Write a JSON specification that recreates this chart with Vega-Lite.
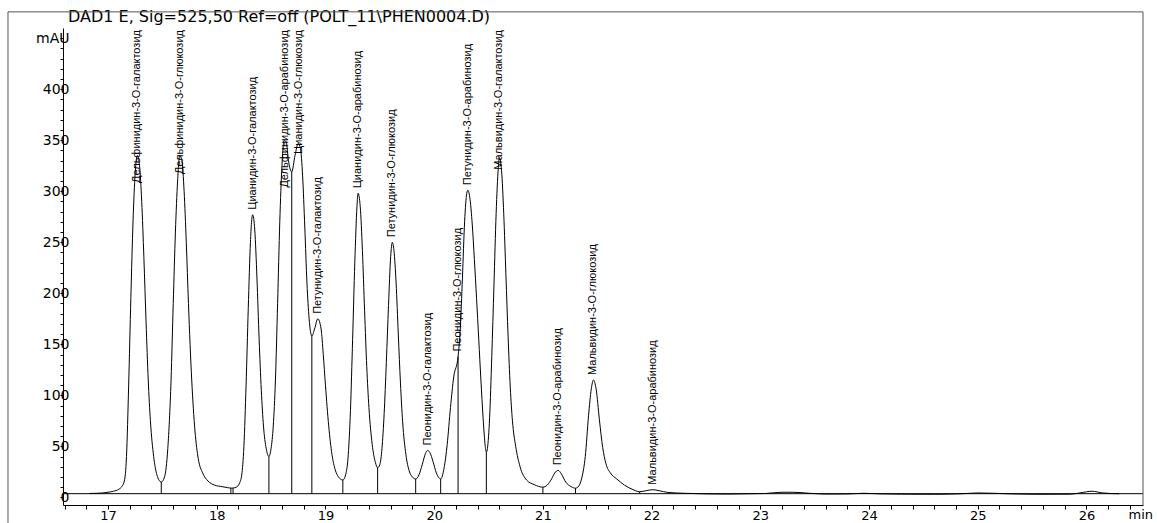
{
  "$schema": "https://vega.github.io/schema/vega-lite/v6.json",
  "width": 1080,
  "height": 477,
  "autosize": {"type": "none"},
  "padding": {"left": 63, "top": 28, "right": 14, "bottom": 18},
  "background": "white",
  "config": {"view": {"stroke": null}, "font": "Liberation Sans", "axis": {"labelOverlap": false, "labelFlush": false, "labelBound": false}},
  "datasets": {
    "trace": [
      {"t": 16.83, "v": 3.8}, {"t": 16.9, "v": 4.0}, {"t": 16.95, "v": 4.3}, {"t": 17.0, "v": 5}, {"t": 17.05, "v": 6}, {"t": 17.1, "v": 8}, {"t": 17.13, "v": 11}, {"t": 17.15, "v": 16}, {"t": 17.17, "v": 40}, {"t": 17.19, "v": 110}, {"t": 17.21, "v": 195}, {"t": 17.23, "v": 270}, {"t": 17.25, "v": 318}, {"t": 17.27, "v": 335}, {"t": 17.29, "v": 325}, {"t": 17.31, "v": 290}, {"t": 17.33, "v": 235}, {"t": 17.35, "v": 172}, {"t": 17.37, "v": 115}, {"t": 17.39, "v": 75}, {"t": 17.42, "v": 40}, {"t": 17.45, "v": 22}, {"t": 17.49, "v": 15},
      {"t": 17.52, "v": 20}, {"t": 17.55, "v": 48}, {"t": 17.58, "v": 115}, {"t": 17.6, "v": 190}, {"t": 17.62, "v": 260}, {"t": 17.64, "v": 310}, {"t": 17.66, "v": 335}, {"t": 17.68, "v": 330}, {"t": 17.7, "v": 300}, {"t": 17.72, "v": 250}, {"t": 17.74, "v": 190}, {"t": 17.77, "v": 115}, {"t": 17.8, "v": 65}, {"t": 17.83, "v": 38}, {"t": 17.87, "v": 24}, {"t": 17.92, "v": 16}, {"t": 17.98, "v": 12}, {"t": 18.05, "v": 10.5}, {"t": 18.1, "v": 9.5}, {"t": 18.14, "v": 9},
      {"t": 18.18, "v": 10}, {"t": 18.21, "v": 14}, {"t": 18.23, "v": 22}, {"t": 18.25, "v": 50}, {"t": 18.27, "v": 110}, {"t": 18.29, "v": 185}, {"t": 18.31, "v": 250}, {"t": 18.33, "v": 277}, {"t": 18.35, "v": 262}, {"t": 18.37, "v": 215}, {"t": 18.39, "v": 155}, {"t": 18.41, "v": 105}, {"t": 18.43, "v": 70}, {"t": 18.455, "v": 48}, {"t": 18.48, "v": 40},
      {"t": 18.5, "v": 48}, {"t": 18.52, "v": 70}, {"t": 18.54, "v": 115}, {"t": 18.56, "v": 190}, {"t": 18.58, "v": 270}, {"t": 18.6, "v": 325}, {"t": 18.62, "v": 350}, {"t": 18.64, "v": 348}, {"t": 18.66, "v": 330}, {"t": 18.69, "v": 319}, {"t": 18.72, "v": 335}, {"t": 18.75, "v": 347}, {"t": 18.77, "v": 342}, {"t": 18.79, "v": 315}, {"t": 18.81, "v": 265}, {"t": 18.83, "v": 210}, {"t": 18.85, "v": 175}, {"t": 18.875, "v": 158}, {"t": 18.9, "v": 165}, {"t": 18.93, "v": 175}, {"t": 18.96, "v": 165}, {"t": 18.98, "v": 140}, {"t": 19.0, "v": 110}, {"t": 19.03, "v": 70}, {"t": 19.06, "v": 42}, {"t": 19.09, "v": 27}, {"t": 19.12, "v": 20}, {"t": 19.16, "v": 17},
      {"t": 19.19, "v": 24}, {"t": 19.21, "v": 42}, {"t": 19.23, "v": 85}, {"t": 19.25, "v": 155}, {"t": 19.27, "v": 230}, {"t": 19.29, "v": 285}, {"t": 19.3, "v": 298}, {"t": 19.32, "v": 285}, {"t": 19.34, "v": 242}, {"t": 19.36, "v": 183}, {"t": 19.38, "v": 128}, {"t": 19.4, "v": 88}, {"t": 19.43, "v": 52}, {"t": 19.46, "v": 34}, {"t": 19.48, "v": 29},
      {"t": 19.5, "v": 32}, {"t": 19.52, "v": 48}, {"t": 19.54, "v": 82}, {"t": 19.56, "v": 132}, {"t": 19.58, "v": 188}, {"t": 19.6, "v": 236}, {"t": 19.615, "v": 250}, {"t": 19.63, "v": 242}, {"t": 19.65, "v": 210}, {"t": 19.67, "v": 160}, {"t": 19.69, "v": 112}, {"t": 19.71, "v": 74}, {"t": 19.74, "v": 42}, {"t": 19.77, "v": 26}, {"t": 19.8, "v": 20}, {"t": 19.83, "v": 18},
      {"t": 19.86, "v": 22}, {"t": 19.89, "v": 32}, {"t": 19.92, "v": 43}, {"t": 19.94, "v": 46}, {"t": 19.96, "v": 44}, {"t": 19.99, "v": 35}, {"t": 20.02, "v": 24}, {"t": 20.06, "v": 18},
      {"t": 20.09, "v": 28}, {"t": 20.12, "v": 52}, {"t": 20.15, "v": 88}, {"t": 20.18, "v": 118}, {"t": 20.22, "v": 138}, {"t": 20.24, "v": 165}, {"t": 20.26, "v": 215}, {"t": 20.28, "v": 270}, {"t": 20.3, "v": 298}, {"t": 20.31, "v": 301}, {"t": 20.33, "v": 292}, {"t": 20.35, "v": 268}, {"t": 20.37, "v": 233}, {"t": 20.39, "v": 195}, {"t": 20.41, "v": 155}, {"t": 20.43, "v": 115}, {"t": 20.45, "v": 78}, {"t": 20.47, "v": 50}, {"t": 20.48, "v": 44},
      {"t": 20.49, "v": 48}, {"t": 20.51, "v": 78}, {"t": 20.53, "v": 138}, {"t": 20.55, "v": 208}, {"t": 20.57, "v": 278}, {"t": 20.59, "v": 323}, {"t": 20.6, "v": 333}, {"t": 20.62, "v": 320}, {"t": 20.64, "v": 278}, {"t": 20.66, "v": 218}, {"t": 20.68, "v": 158}, {"t": 20.7, "v": 108}, {"t": 20.72, "v": 75}, {"t": 20.75, "v": 50}, {"t": 20.79, "v": 30}, {"t": 20.85, "v": 17}, {"t": 20.92, "v": 12.5}, {"t": 21.0, "v": 10},
      {"t": 21.04, "v": 12}, {"t": 21.08, "v": 18}, {"t": 21.11, "v": 24}, {"t": 21.14, "v": 26.5}, {"t": 21.17, "v": 23}, {"t": 21.21, "v": 15}, {"t": 21.26, "v": 10.5}, {"t": 21.3, "v": 9},
      {"t": 21.33, "v": 11}, {"t": 21.36, "v": 20}, {"t": 21.39, "v": 40}, {"t": 21.42, "v": 80}, {"t": 21.445, "v": 106}, {"t": 21.465, "v": 115}, {"t": 21.49, "v": 106}, {"t": 21.52, "v": 76}, {"t": 21.55, "v": 49}, {"t": 21.58, "v": 33}, {"t": 21.62, "v": 24}, {"t": 21.68, "v": 18}, {"t": 21.75, "v": 12}, {"t": 21.82, "v": 8}, {"t": 21.89, "v": 5.5},
      {"t": 21.95, "v": 6.5}, {"t": 22.01, "v": 7.5}, {"t": 22.07, "v": 6.5}, {"t": 22.15, "v": 4.8}, {"t": 22.3, "v": 4}, {"t": 22.5, "v": 3.4}, {"t": 22.7, "v": 3.2}, {"t": 22.9, "v": 3.5}, {"t": 23.05, "v": 3.8}, {"t": 23.2, "v": 5}, {"t": 23.3, "v": 5}, {"t": 23.45, "v": 4}, {"t": 23.6, "v": 3.2}, {"t": 23.8, "v": 3.3}, {"t": 23.95, "v": 4}, {"t": 24.1, "v": 3.4}, {"t": 24.3, "v": 3.1}, {"t": 24.6, "v": 3}, {"t": 24.85, "v": 3.5}, {"t": 25.0, "v": 4.3}, {"t": 25.15, "v": 4}, {"t": 25.3, "v": 3.4}, {"t": 25.6, "v": 3}, {"t": 25.85, "v": 3.1}, {"t": 25.95, "v": 4.5}, {"t": 26.05, "v": 6}, {"t": 26.15, "v": 4.3}, {"t": 26.3, "v": 3.5}
    ],
    "drops": [
      {"t": 17.49, "v": 15}, {"t": 18.13, "v": 9}, {"t": 18.15, "v": 9}, {"t": 18.48, "v": 40}, {"t": 18.69, "v": 319}, {"t": 18.875, "v": 158}, {"t": 19.16, "v": 17}, {"t": 19.48, "v": 29}, {"t": 19.83, "v": 18}, {"t": 20.06, "v": 18}, {"t": 20.22, "v": 138}, {"t": 20.48, "v": 44}, {"t": 21.0, "v": 10}, {"t": 21.3, "v": 9}, {"t": 21.89, "v": 5.5}
    ],
    "peaks": [
      {"t": 17.27, "v": 335, "name": "Дельфинидин-3-О-галактозид"},
      {"t": 17.665, "v": 335, "name": "Дельфинидин-3-О-глюкозид"},
      {"t": 18.33, "v": 277, "name": "Цианидин-3-О-галактозид"},
      {"t": 18.625, "v": 350, "name": "Дельфинидин-3-О-арабинозид"},
      {"t": 18.755, "v": 347, "name": "Цианидин-3-О-глюкозид"},
      {"t": 18.93, "v": 175, "name": "Петунидин-3-О-галактозид"},
      {"t": 19.3, "v": 298, "name": "Цианидин-3-О-арабинозид"},
      {"t": 19.615, "v": 250, "name": "Петунидин-3-О-глюкозид"},
      {"t": 19.94, "v": 46, "name": "Пеонидин-3-О-галактозид"},
      {"t": 20.22, "v": 138, "name": "Пеонидин-3-О-глюкозид"},
      {"t": 20.31, "v": 301, "name": "Петунидин-3-О-арабинозид"},
      {"t": 20.6, "v": 333, "name": "Мальвидин-3-О-галактозид"},
      {"t": 21.14, "v": 26.5, "name": "Пеонидин-3-О-арабинозид"},
      {"t": 21.465, "v": 115, "name": "Мальвидин-3-О-глюкозид"},
      {"t": 22.01, "v": 7.5, "name": "Мальвидин-3-О-арабинозид"}
    ]
  },
  "resolve": {"axis": {"x": "independent", "y": "independent"}},
  "layer": [
    {
      "layer": [
        {
          "data": {"name": "trace"},
          "mark": {"type": "line", "color": "black", "strokeWidth": 1, "interpolate": "monotone"},
          "encoding": {
            "x": {
              "field": "t", "type": "quantitative", "title": null,
              "scale": {"domain": [16.586, 26.52], "nice": false, "zero": false},
              "axis": {
                "orient": "bottom",
                "values": [17, 18, 19, 20, 21, 22, 23, 24, 25, 26],
                "format": "d",
                "title": null, "grid": false, "tickSize": 4, "labelPadding": 0,
                "labelFontSize": 13, "labelFont": "DejaVu Sans", "labelColor": "black",
                "domainColor": "black", "tickColor": "black", "labelOverlap": false
              }
            },
            "y": {
              "field": "v", "type": "quantitative", "title": null,
              "scale": {"domain": [-7.5, 460], "nice": false, "zero": false},
              "axis": {
                "orient": "left",
                "values": [0, 50, 100, 150, 200, 250, 300, 350, 400, 450],
                "labelExpr": "datum.value == 450 ? 'mAU' : datum.label",
                "title": null, "grid": false, "tickSize": 3, "labelPadding": -9,
                "labelFontSize": 14, "labelFont": "DejaVu Sans", "labelColor": "black",
                "domainColor": "black", "tickColor": "black", "labelOverlap": false
              }
            }
          }
        },
        {
          "data": {"values": [{}]},
          "mark": {"type": "rule", "color": "black", "strokeWidth": 1},
          "encoding": {
            "x": {"datum": 16.586}, "x2": {"datum": 26.52},
            "y": {"datum": 3.6}
          }
        },
        {
          "data": {"name": "drops"},
          "mark": {"type": "rule", "color": "black", "strokeWidth": 1},
          "encoding": {
            "x": {"field": "t", "type": "quantitative", "title": null},
            "y": {"field": "v", "type": "quantitative", "title": null},
            "y2": {"datum": 3.6}
          }
        },
        {
          "data": {"name": "peaks"},
          "transform": [{"filter": "datum.v <= 310"}],
          "mark": {"type": "text", "angle": 270, "align": "left", "baseline": "middle", "dx": 5, "fontSize": 11, "font": "Liberation Sans", "color": "black"},
          "encoding": {
            "x": {"field": "t", "type": "quantitative", "title": null},
            "y": {"field": "v", "type": "quantitative", "title": null},
            "text": {"field": "name"}
          }
        },
        {
          "data": {"name": "peaks"},
          "transform": [{"filter": "datum.v > 310"}],
          "mark": {"type": "text", "angle": 270, "align": "right", "baseline": "middle", "fontSize": 11, "font": "Liberation Sans", "color": "black"},
          "encoding": {
            "x": {"field": "t", "type": "quantitative", "title": null},
            "y": {"datum": 458},
            "text": {"field": "name"}
          }
        },
        {
          "data": {"values": [{}]},
          "mark": {"type": "text", "align": "center", "baseline": "top", "fontSize": 13, "font": "DejaVu Sans", "color": "black"},
          "encoding": {
            "x": {"datum": 26.5},
            "y": {"datum": -11.4},
            "text": {"value": "min"}
          }
        },
        {
          "data": {"values": [{}]},
          "mark": {"type": "text", "align": "left", "baseline": "middle", "fontSize": 16, "font": "DejaVu Sans", "color": "black"},
          "encoding": {
            "x": {"datum": 16.632},
            "y": {"datum": 470.4},
            "text": {"value": "DAD1 E, Sig=525,50 Ref=off (POLT_11\\PHEN0004.D)"}
          }
        },
        {
          "data": {"values": [{}]},
          "mark": {"type": "rule", "color": "#555555", "strokeWidth": 1},
          "encoding": {
            "x": {"datum": 16.08}, "x2": {"datum": 26.52},
            "y": {"datum": 475.8}
          }
        },
        {
          "data": {"values": [{}]},
          "mark": {"type": "rule", "color": "#555555", "strokeWidth": 1},
          "encoding": {
            "x": {"datum": 16.08},
            "y": {"datum": 475.8}, "y2": {"datum": -25}
          }
        },
        {
          "data": {"values": [{}]},
          "mark": {"type": "rule", "color": "#555555", "strokeWidth": 1},
          "encoding": {
            "x": {"datum": 26.52},
            "y": {"datum": 475.8}, "y2": {"datum": -7.5}
          }
        }
      ]
    },
    {
      "data": {"name": "trace"},
      "mark": {"type": "point", "opacity": 0},
      "encoding": {
        "x": {
          "field": "t", "type": "quantitative", "title": null,
          "scale": {"domain": [16.586, 26.52], "nice": false, "zero": false},
          "axis": {
            "orient": "bottom",
            "values": [16.6, 16.8, 17.2, 17.4, 17.6, 17.8, 18.2, 18.4, 18.6, 18.8, 19.2, 19.4, 19.6, 19.8, 20.2, 20.4, 20.6, 20.8, 21.2, 21.4, 21.6, 21.8, 22.2, 22.4, 22.6, 22.8, 23.2, 23.4, 23.6, 23.8, 24.2, 24.4, 24.6, 24.8, 25.2, 25.4, 25.6, 25.8, 26.2, 26.4],
            "labels": false, "domain": false, "title": null, "grid": false,
            "tickSize": 4, "tickColor": "black"
          }
        },
        "y": {
          "field": "v", "type": "quantitative", "title": null,
          "scale": {"domain": [-7.5, 460], "nice": false, "zero": false},
          "axis": {
            "orient": "left",
            "values": [10, 20, 30, 40, 60, 70, 80, 90, 110, 120, 130, 140, 160, 170, 180, 190, 210, 220, 230, 240, 260, 270, 280, 290, 310, 320, 330, 340, 360, 370, 380, 390, 410, 420, 430, 440],
            "labels": false, "domain": false, "title": null, "grid": false,
            "tickSize": 3, "tickColor": "black"
          }
        }
      }
    }
  ]
}
